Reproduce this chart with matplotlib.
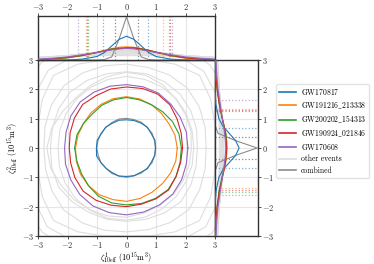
import numpy as np
import matplotlib
matplotlib.use('Agg')
import matplotlib.pyplot as plt

config = {
    'font.family': 'serif',
    'font.serif': ['cmr10', 'DejaVu Serif'],
    'mathtext.fontset': 'cm',
    'axes.formatter.use_mathtext': True,
    'font.size': 6,
}
plt.rcParams.update(config)

# ---- data ----
events = ['GW170817', 'GW191216_213338', 'GW200202_154313', 'GW190924_021846', 'GW170608']
colors = ['#1f77b4', '#ff7f0e', '#2ca02c', '#d62728', '#9467bd']

# contour radius (10^15 m^3) at angles 0,15,...,345 deg
angles_deg = np.arange(0, 360, 15)
r_GW170817 = [0.98, 1.0, 0.97, 1.0, 0.98, 0.97, 0.96, 0.98, 0.97, 1.0, 0.98, 1.03,
              1.02, 1.05, 1.0, 0.98, 0.97, 0.99, 0.97, 0.98, 0.96, 1.0, 0.97, 0.99]
r_GW191216 = [1.72, 1.70, 1.66, 1.67, 1.70, 1.73, 1.75, 1.74, 1.72, 1.70, 1.68, 1.70,
              1.73, 1.76, 1.80, 1.82, 1.84, 1.82, 1.82, 1.78, 1.74, 1.72, 1.72, 1.73]
r_GW200202 = [1.86, 1.84, 1.80, 1.74, 1.70, 1.70, 1.72, 1.70, 1.68, 1.64, 1.68, 1.74,
              1.76, 1.74, 1.76, 1.82, 1.90, 1.94, 1.94, 1.96, 1.98, 2.00, 1.94, 1.88]
r_GW190924 = [1.90, 1.92, 1.98, 2.08, 2.12, 2.10, 2.08, 2.08, 2.06, 2.10, 2.04, 1.98,
              1.94, 1.96, 2.02, 2.08, 2.06, 2.02, 2.00, 1.98, 2.00, 2.02, 1.94, 1.90]
r_GW170608 = [2.08, 2.10, 2.10, 2.12, 2.16, 2.16, 2.16, 2.18, 2.20, 2.22, 2.18, 2.12,
              2.10, 2.14, 2.18, 2.24, 2.28, 2.28, 2.28, 2.26, 2.24, 2.22, 2.16, 2.10]
r_combined = [0.99, 0.98, 1.0, 0.99, 1.01, 1.0, 1.01, 1.02, 1.0, 0.99, 1.0, 1.0,
              1.01, 0.99, 1.0, 0.98, 1.0, 0.99, 1.0, 0.98, 0.99, 0.98, 1.0, 0.99]
r_others = [
    [2.28, 2.30, 2.34, 2.38, 2.40, 2.42, 2.44, 2.42, 2.40, 2.38, 2.36, 2.34,
     2.32, 2.36, 2.40, 2.44, 2.46, 2.48, 2.46, 2.44, 2.40, 2.36, 2.32, 2.30],
    [2.40, 2.46, 2.52, 2.58, 2.60, 2.62, 2.60, 2.62, 2.66, 2.70, 2.66, 2.60,
     2.58, 2.62, 2.66, 2.60, 2.54, 2.52, 2.50, 2.52, 2.56, 2.60, 2.52, 2.44],
    [2.70, 2.76, 2.84, 2.90, 2.88, 2.84, 2.86, 2.90, 2.96, 3.00, 2.94, 2.86,
     2.80, 2.84, 2.92, 3.00, 2.96, 2.90, 2.86, 2.88, 2.94, 2.98, 2.86, 2.76],
    [3.00, 3.10, 3.30, 3.50, 3.30, 3.10, 3.00, 3.10, 3.30, 3.50, 3.30, 3.10,
     3.00, 3.10, 3.30, 3.50, 3.30, 3.10, 3.00, 3.10, 3.30, 3.50, 3.30, 3.10],
    [3.30, 3.40, 3.55, 3.70, 3.60, 3.45, 3.35, 3.45, 3.60, 3.75, 3.60, 3.45,
     3.35, 3.45, 3.60, 3.80, 3.65, 3.50, 3.40, 3.50, 3.65, 3.80, 3.60, 3.45],
    [3.70, 3.80, 3.90, 4.00, 3.95, 3.85, 3.80, 3.90, 4.00, 4.10, 3.95, 3.85,
     3.75, 3.85, 3.95, 4.05, 3.95, 3.85, 3.80, 3.90, 4.00, 4.10, 3.95, 3.80],
    [4.00, 4.10, 4.20, 4.30, 4.20, 4.10, 4.05, 4.15, 4.25, 4.35, 4.20, 4.10,
     4.05, 4.15, 4.25, 4.35, 4.25, 4.15, 4.10, 4.20, 4.30, 4.40, 4.25, 4.10],
    [2.20, 2.26, 2.30, 2.36, 2.48, 2.56, 2.58, 2.52, 2.46, 2.42, 2.50, 2.62,
     2.70, 2.66, 2.56, 2.50, 2.44, 2.40, 2.36, 2.30, 2.26, 2.24, 2.22, 2.20],
]

# marginal densities, fine grid for the narrow ones
grid = [-3, -2.5, -2, -1.5, -1, -0.75, -0.5, -0.25, 0, 0.25, 0.5, 0.75, 1, 1.5, 2, 2.5, 3]
top_GW170817 = [0, 0, 0, 0.02, 0.08, 0.17, 0.32, 0.47, 0.54, 0.47, 0.32, 0.17, 0.08, 0.02, 0, 0, 0]
top_GW191216 = [0.01, 0.02, 0.05, 0.10, 0.18, 0.22, 0.26, 0.29, 0.30, 0.29, 0.26, 0.22, 0.17, 0.09, 0.04, 0.02, 0.01]
top_GW200202 = [0.01, 0.02, 0.05, 0.10, 0.17, 0.21, 0.25, 0.27, 0.28, 0.28, 0.26, 0.22, 0.18, 0.10, 0.05, 0.02, 0.01]
top_GW190924 = [0.01, 0.03, 0.06, 0.11, 0.17, 0.21, 0.24, 0.26, 0.27, 0.27, 0.25, 0.22, 0.18, 0.11, 0.05, 0.02, 0.01]
top_GW170608 = [0.02, 0.04, 0.07, 0.12, 0.17, 0.20, 0.23, 0.25, 0.26, 0.25, 0.23, 0.20, 0.17, 0.12, 0.07, 0.04, 0.02]
top_combined = [0, 0, 0, 0, 0, 0.01, 0.07, 0.48, 0.98, 0.48, 0.07, 0.01, 0, 0, 0, 0, 0]

right_GW170817 = [0, 0, 0, 0.02, 0.09, 0.18, 0.33, 0.48, 0.56, 0.48, 0.33, 0.18, 0.09, 0.02, 0, 0, 0]
right_GW191216 = [0.01, 0.02, 0.05, 0.10, 0.17, 0.21, 0.25, 0.27, 0.28, 0.27, 0.25, 0.21, 0.17, 0.10, 0.05, 0.02, 0.01]
right_GW200202 = [0.01, 0.02, 0.05, 0.09, 0.16, 0.20, 0.24, 0.26, 0.27, 0.27, 0.25, 0.21, 0.17, 0.10, 0.05, 0.02, 0.01]
right_GW190924 = [0.01, 0.02, 0.05, 0.10, 0.17, 0.21, 0.24, 0.26, 0.27, 0.26, 0.24, 0.21, 0.17, 0.10, 0.05, 0.02, 0.01]
right_GW170608 = [0.02, 0.04, 0.07, 0.12, 0.17, 0.20, 0.22, 0.24, 0.25, 0.24, 0.22, 0.20, 0.17, 0.12, 0.07, 0.04, 0.02]
right_combined = [0, 0, 0, 0, 0, 0.01, 0.07, 0.48, 0.98, 0.48, 0.07, 0.01, 0, 0, 0, 0, 0]

# other events, coarse grid
grid_wide = [-3, -2.5, -2, -1.5, -1, -0.5, 0, 0.5, 1, 1.5, 2, 2.5, 3]
top_others = [
    [0.02, 0.05, 0.09, 0.14, 0.18, 0.21, 0.22, 0.21, 0.18, 0.14, 0.09, 0.05, 0.02],
    [0.03, 0.06, 0.10, 0.14, 0.17, 0.19, 0.20, 0.19, 0.17, 0.14, 0.10, 0.06, 0.03],
    [0.04, 0.07, 0.10, 0.13, 0.16, 0.17, 0.18, 0.17, 0.16, 0.13, 0.10, 0.07, 0.04],
    [0.05, 0.08, 0.10, 0.13, 0.15, 0.16, 0.16, 0.16, 0.15, 0.13, 0.10, 0.08, 0.05],
    [0.06, 0.08, 0.10, 0.12, 0.13, 0.14, 0.14, 0.14, 0.13, 0.12, 0.10, 0.08, 0.06],
    [0.06, 0.08, 0.09, 0.10, 0.11, 0.12, 0.12, 0.12, 0.11, 0.10, 0.09, 0.08, 0.06],
    [0.06, 0.07, 0.08, 0.09, 0.10, 0.10, 0.10, 0.10, 0.10, 0.09, 0.08, 0.07, 0.06],
    [0.03, 0.05, 0.08, 0.12, 0.17, 0.20, 0.21, 0.20, 0.17, 0.13, 0.09, 0.05, 0.03],
]
right_others = [
    [0.02, 0.05, 0.09, 0.14, 0.18, 0.20, 0.21, 0.20, 0.18, 0.14, 0.09, 0.05, 0.02],
    [0.03, 0.06, 0.10, 0.14, 0.17, 0.19, 0.19, 0.19, 0.17, 0.14, 0.10, 0.06, 0.03],
    [0.04, 0.07, 0.10, 0.13, 0.15, 0.17, 0.17, 0.17, 0.15, 0.13, 0.10, 0.07, 0.04],
    [0.05, 0.08, 0.10, 0.12, 0.14, 0.15, 0.16, 0.15, 0.14, 0.12, 0.10, 0.08, 0.05],
    [0.06, 0.08, 0.10, 0.12, 0.13, 0.13, 0.14, 0.13, 0.13, 0.12, 0.10, 0.08, 0.06],
    [0.06, 0.08, 0.09, 0.10, 0.11, 0.11, 0.12, 0.11, 0.11, 0.10, 0.09, 0.08, 0.06],
    [0.06, 0.07, 0.08, 0.09, 0.09, 0.10, 0.10, 0.10, 0.09, 0.09, 0.08, 0.07, 0.06],
    [0.03, 0.05, 0.08, 0.12, 0.16, 0.19, 0.20, 0.19, 0.16, 0.12, 0.08, 0.05, 0.03],
]

# 90% bounds (lower, upper)
x_bounds = [(-0.80, 0.73), (-1.38, 1.25), (-1.30, 1.43), (-1.35, 1.47), (-1.64, 1.55)]
y_bounds = [(-0.69, 0.69), (-1.36, 1.33), (-1.50, 1.27), (-1.43, 1.31), (-1.60, 1.64)]
x_bounds_combined = (-0.39, 0.39)
y_bounds_combined = (-0.37, 0.39)

radii = [r_GW170817, r_GW191216, r_GW200202, r_GW190924, r_GW170608]
top_dens = [top_GW170817, top_GW191216, top_GW200202, top_GW190924, top_GW170608]
right_dens = [right_GW170817, right_GW191216, right_GW200202, right_GW190924, right_GW170608]

other_c = '#dedede'
comb_c = '#8c8c8c'
grid_c = '#e6e6e6'
spine_c = '#333333'
lw = 0.8


def closed_xy(r):
    th = np.deg2rad(np.append(angles_deg, angles_deg[0]))
    r = np.append(r, r[0])
    return r * np.cos(th), r * np.sin(th)


def style(ax):
    ax.grid(True, color=grid_c, lw=0.8)
    ax.set_axisbelow(True)
    for s in ax.spines.values():
        s.set_color(spine_c)
        s.set_linewidth(1.0)
    ax.tick_params(length=2, width=0.6, color=spine_c, pad=1, labelsize=6, labelcolor='#333333')


fig = plt.figure(figsize=(3.74, 2.64), dpi=100)
ax = fig.add_axes([0.1016, 0.1061, 0.4733, 0.6667])
ax_top = fig.add_axes([0.1016, 0.7727, 0.4733, 0.1667], sharex=ax)
ax_right = fig.add_axes([0.5749, 0.1061, 0.115, 0.6667], sharey=ax)

# main panel
for r in r_others:
    x, y = closed_xy(r)
    ax.plot(x, y, color=other_c, lw=lw, zorder=1)
for c, r in zip(colors, radii):
    x, y = closed_xy(r)
    ax.plot(x, y, color=c, lw=lw, zorder=3)
x, y = closed_xy(r_combined)
ax.plot(x, y, color=comb_c, lw=lw, zorder=2)

ax.set_xlim(-3, 3)
ax.set_ylim(-3, 3)
ax.set_xticks(range(-3, 4))
ax.set_yticks(range(-3, 4))
ax.set_xlabel(r'$\zeta^{1}_{\rm 10eff}\ (10^{15}{\rm m}^3)$', fontsize=6, labelpad=0)
ax.set_ylabel(r'$\zeta^{2}_{\rm 10eff}\ (10^{15}{\rm m}^3)$', fontsize=6, labelpad=1)
style(ax)

# top marginal
for d in top_others:
    ax_top.plot(grid_wide, d, color=other_c, lw=lw, zorder=1)
for c, d, (lo, hi) in zip(colors, top_dens, x_bounds):
    ax_top.plot(grid, d, color=c, lw=lw, zorder=3)
    ax_top.axvline(lo, color=c, ls=':', lw=0.9, alpha=0.55)
    ax_top.axvline(hi, color=c, ls=':', lw=0.9, alpha=0.55)
ax_top.plot(grid, top_combined, color=comb_c, lw=lw, zorder=2)
ax_top.axvline(x_bounds_combined[0], color=comb_c, ls=':', lw=0.9)
ax_top.axvline(x_bounds_combined[1], color=comb_c, ls=':', lw=0.9)
ax_top.set_ylim(0, 1.0)
ax_top.set_yticks([])
ax_top.xaxis.tick_top()
style(ax_top)

# right marginal
for d in right_others:
    ax_right.plot(d, grid_wide, color=other_c, lw=lw, zorder=1)
for c, d, (lo, hi) in zip(colors, right_dens, y_bounds):
    ax_right.plot(d, grid, color=c, lw=lw, zorder=3)
    ax_right.axhline(lo, color=c, ls=':', lw=0.9, alpha=0.55)
    ax_right.axhline(hi, color=c, ls=':', lw=0.9, alpha=0.55)
ax_right.plot(right_combined, grid, color=comb_c, lw=lw, zorder=2)
ax_right.axhline(y_bounds_combined[0], color=comb_c, ls=':', lw=0.9)
ax_right.axhline(y_bounds_combined[1], color=comb_c, ls=':', lw=0.9)
ax_right.set_xlim(0, 1.0)
ax_right.set_xticks([])
ax_right.yaxis.tick_right()
style(ax_right)

# legend with proxy handles
leg_colors = colors + [other_c, comb_c]
leg_labels = [r'$\mathrm{' + e.replace('_', r'\_') + '}$' for e in events] + ['other events', 'combined']
proxies = [plt.Line2D([], [], color=c, lw=1.2) for c in leg_colors]
fig.legend(proxies, leg_labels,
           loc='center left', bbox_to_anchor=(0.728, 0.504), fontsize=5.5,
           labelspacing=0.4, handlelength=2.2, handletextpad=0.6, borderpad=0.4,
           frameon=True, edgecolor='#dddddd', fancybox=True)

plt.savefig('out.png', dpi=100)
